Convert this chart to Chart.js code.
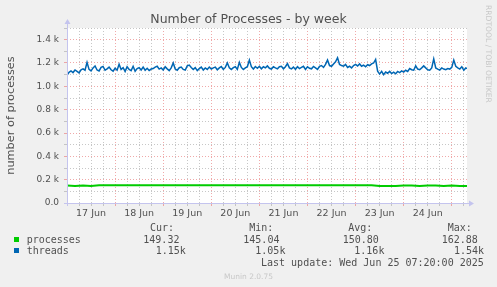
<!DOCTYPE html>
<html>
<head>
<meta charset="utf-8">
<script src="https://cdn.jsdelivr.net/npm/chart.js@4/dist/chart.umd.min.js"></script>
<style>
body{margin:0;background:#f0f0f0;}
#wrap{position:relative;width:497px;height:287px;overflow:hidden;}
canvas{position:absolute;left:0;top:0;}
.t{position:absolute;font-family:'DejaVu Sans Mono',monospace;font-size:10px;line-height:12px;color:#505050;white-space:pre;}
.sq{position:absolute;width:5px;height:5px;}
#munin{position:absolute;left:0;width:497px;top:271.6px;text-align:center;font-family:'DejaVu Sans',sans-serif;font-size:7.5px;line-height:9px;color:#c8c8c8;}
#rrd{position:absolute;left:484px;top:5px;writing-mode:vertical-rl;font-family:'DejaVu Sans',sans-serif;font-size:7.6px;line-height:8px;color:#c8c8c8;}
</style>
</head>
<body>
<div id="wrap">
  <canvas id="chart" width="497" height="287"></canvas>
  <div id="legend"></div>
  <div id="munin">Munin 2.0.75</div>
  <div id="rrd">RRDTOOL / TOBI OETIKER</div>
</div>
<script>
// x axis is hours since 17 Jun 00:00
const dayLabels = ['17 Jun','18 Jun','19 Jun','20 Jun','21 Jun','22 Jun','23 Jun','24 Jun'];
const xMax = 199.6;
const yMax = 1500;

// threads, one value per hour
const threads = [
  1095,1120,1132,1118,1140,1128,1115,1142,1150,1138,1205,1145,1132,1158,1175,1140,1132,1162,1170,1138,
  1150,1165,1142,1130,1155,1138,1190,1145,1160,1128,1168,1145,1135,1172,1130,1152,1160,1140,1165,1138,
  1155,1135,1148,1152,1165,1172,1148,1158,1140,1168,
  1150,1135,1158,1200,1148,1138,1160,1165,1145,1140,1175,1182,1162,1145,1160,1135,1152,1165,1140,1158,
  1145,1165,1148,1158,1165,1142,1158,1170,1145,1162,1200,1158,1145,1160,1168,1145,1205,1162,1145,1158,
  1168,1225,1168,1148,1170,1155,1172,1150,1168,1158,
  1175,1155,1148,1168,1158,1150,1168,1172,1150,1168,1195,1158,1150,1165,1145,1168,1152,1162,1172,1145,
  1168,1155,1150,1170,1158,1145,1172,1178,1162,1188,1225,1178,1172,1192,1210,1245,1188,1178,1172,1188,
  1162,1172,1158,1178,1188,1175,1192,1172,1182,1168,
  1185,1178,1192,1200,1230,1130,1105,1128,1100,1122,1112,1128,1110,1122,1108,1128,1118,1132,1122,1138,
  1128,1152,1142,1138,1175,1148,1142,1158,1175,1158,1142,1138,1158,1235,1158,1148,1140,1158,1148,1142,
  1152,1148,1162,1225,1172,1158,1148,1168,1138,1158,1150
];
const threadStep = 1;

// processes, one value every 4 hours
const processes = [
  150,146,151,146,152,152,152,152,152,152,152,152,152,152,152,152,152,152,152,152,
  152,152,152,152,152,152,152,152,152,152,152,152,152,152,152,152,152,152,152,145,
  145,145,150,151,146,150,151,145,151,146,145
];
const processStep = 4;

const seriesNames = ['processes','threads'];
const seriesColors = ['#00cc00','#0066b3'];
const curVals = ['149.32','1.15k'];
const minVals = ['145.04','1.05k'];
const avgVals = ['150.80','1.16k'];
const maxVals = ['162.88','1.54k'];
const lastUpdate = 'Last update: Wed Jun 25 07:20:00 2025';

// legend block under the plot
const legend = document.getElementById('legend');
function txt(s, left, top){
  const d = document.createElement('div');
  d.className = 't'; d.textContent = s;
  d.style.left = left + 'px'; d.style.top = top + 'px';
  legend.appendChild(d);
}
txt('Cur:',150,222.2); txt('Min:',249.3,222.2); txt('Avg:',348.3,222.2); txt('Max:',447.7,222.2);
const rowTop = [233.8,244.8];
const valLeft = [[143.3,243.3,342.7,441.7],[155.7,255.3,354.3,454]];
seriesNames.forEach((n,i)=>{
  const sq = document.createElement('div');
  sq.className = 'sq'; sq.style.background = seriesColors[i];
  sq.style.left = '14px'; sq.style.top = (rowTop[i]+3.5) + 'px';
  legend.appendChild(sq);
  txt(n,26.7,rowTop[i]);
  [curVals[i],minVals[i],avgVals[i],maxVals[i]].forEach((v,j)=>txt(v,valLeft[i][j],rowTop[i]));
});
txt(lastUpdate,261,257.2);

const majorGrid = 'rgba(235,140,140,0.75)';
const minorGrid = 'rgba(185,185,185,0.8)';
const axisColor = '#c4c4ee';

const plotBg = {
  id:'plotBg',
  beforeDraw(chart){
    const {ctx, chartArea:a} = chart;
    ctx.save();
    ctx.fillStyle = '#fff';
    ctx.fillRect(a.left, a.top, a.right-a.left, a.bottom-a.top);
    ctx.restore();
  },
  afterDraw(chart){
    const {ctx, chartArea:a} = chart;
    ctx.save();
    ctx.strokeStyle = axisColor; ctx.fillStyle = axisColor; ctx.lineWidth = 1;
    ctx.beginPath();
    ctx.moveTo(a.left+0.5, a.bottom+3); ctx.lineTo(a.left+0.5, a.top-5);
    ctx.moveTo(a.left-3, a.bottom+0.5); ctx.lineTo(a.right+3, a.bottom+0.5);
    ctx.stroke();
    ctx.beginPath();
    ctx.moveTo(a.left-2.5, a.top-4); ctx.lineTo(a.left+3.5, a.top-4); ctx.lineTo(a.left+0.5, a.top-9); ctx.closePath();
    ctx.moveTo(a.right+2, a.bottom-2.5); ctx.lineTo(a.right+2, a.bottom+3.5); ctx.lineTo(a.right+7, a.bottom+0.5); ctx.closePath();
    ctx.fill();
    ctx.restore();
  }
};

const tickFont = {family:'DejaVu Sans', size:9.5};

new Chart(document.getElementById('chart'), {
  type:'line',
  data:{
    datasets:[
      {label:'threads', data:threads.map((v,i)=>({x:i*threadStep, y:v})), borderColor:'#0066b3', borderWidth:1.5, pointRadius:0, tension:0},
      {label:'processes', data:processes.map((v,i)=>({x:i*processStep, y:v})), borderColor:'#00cc00', borderWidth:2, pointRadius:0, tension:0}
    ]
  },
  options:{
    responsive:false,
    animation:false,
    devicePixelRatio:1,
    layout:{padding:{left:0,right:0,top:0,bottom:66}},
    plugins:{
      legend:{display:false},
      tooltip:{enabled:false},
      title:{display:true, text:'Number of Processes - by week', color:'#505050',
        font:{family:'DejaVu Sans', size:12.5, weight:'normal'}, padding:{top:12.5,bottom:0.5}}
    },
    scales:{
      x:{
        type:'linear', min:0, max:xMax,
        afterBuildTicks:s=>{ const t=[]; for(let v=0; v<=xMax; v+=6) t.push({value:v}); s.ticks=t; },
        afterFit:s=>{ s.height = 18; },
        ticks:{autoSkip:false, maxRotation:0, padding:1.5, color:'#505050', font:tickFont,
          callback:v=> v%24===12 ? dayLabels[(v-12)/24] : ''},
        grid:{color:c=> c.tick && c.tick.value%24===0 ? majorGrid : minorGrid, tickLength:3, tickBorderDash:[]},
        border:{display:false, dash:[1,2]}
      },
      y:{
        min:0, max:yMax,
        afterBuildTicks:s=>{ const t=[]; for(let v=0; v<=yMax; v+=100) t.push({value:v}); s.ticks=t; },
        afterFit:s=>{ s.width = 67; },
        ticks:{autoSkip:false, padding:5, color:'#505050', font:{family:'DejaVu Sans', size:9},
          callback:v=> v%200 ? '' : (v===0 ? '0.0' : (v/1000).toFixed(1)+' k')},
        grid:{color:c=> c.tick && c.tick.value%200===0 ? majorGrid : minorGrid, tickLength:3, tickBorderDash:[]},
        border:{display:false, dash:[1,2]},
        title:{display:true, text:'number of processes', color:'#505050',
          font:{family:'DejaVu Sans', size:11.3}, padding:{top:4,bottom:0}}
      },
      y2:{
        position:'right', display:true,
        afterFit:s=>{ s.width = 30; },
        ticks:{display:false}, grid:{display:false}, border:{display:false}
      }
    }
  },
  plugins:[plotBg]
});
</script>
</body>
</html>
